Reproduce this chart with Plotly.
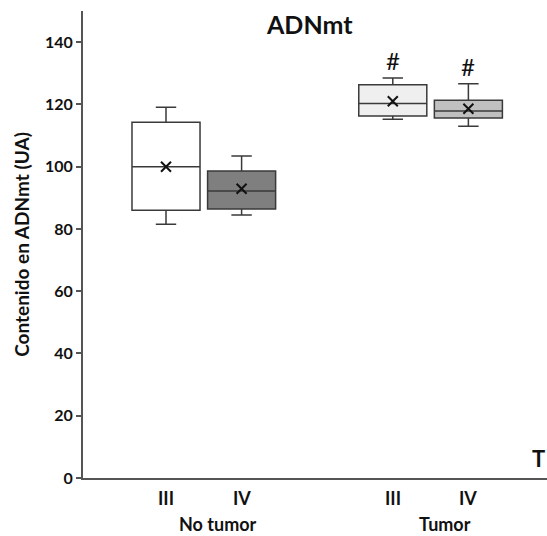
import plotly.graph_objects as go

# ---- data ----
groups = ["No tumor", "No tumor", "Tumor", "Tumor"]
stages = ["III", "IV", "III", "IV"]
positions = [0, 1, 3, 4]
lower_whisker = [81.5, 84.5, 115.2, 113.0]
q1_vals = [86.0, 86.4, 116.3, 115.6]
medians = [100.0, 92.2, 120.3, 117.9]
q3_vals = [114.3, 98.6, 126.3, 121.3]
upper_whisker = [119.1, 103.4, 128.5, 126.6]
means = [100.0, 92.9, 121.0, 118.6]
significance = ["", "", "#", "#"]
fills = ["#ffffff", "#7f7f7f", "#efefef", "#c0c0c0"]

title_text = "ADNmt"
y_title = "Contenido en ADNmt (UA)"
y_ticks = [0, 20, 40, 60, 80, 100, 120, 140]

FONT = "Lato"
line_col = "#3a3a3a"

W, H = 547, 536
ml, mr, mt, mb = 83, 0, 11, 58
pw, ph = W - ml - mr, H - mt - mb

fig = go.Figure()
for i in range(len(positions)):
    fig.add_trace(go.Box(
        x=[positions[i]],
        q1=[q1_vals[i]], median=[medians[i]], q3=[q3_vals[i]],
        lowerfence=[lower_whisker[i]], upperfence=[upper_whisker[i]],
        width=0.9, whiskerwidth=0.3,
        fillcolor=fills[i],
        line=dict(color=line_col, width=1.5),
        boxpoints=False, showlegend=False, hoverinfo="skip",
    ))

fig.add_trace(go.Scatter(
    x=positions, y=means, mode="markers",
    marker=dict(symbol="x-thin", size=10, line=dict(color="#111111", width=2)),
    showlegend=False, hoverinfo="skip",
))

annotations = []
# significance marks
for p, s, uw in zip(positions, significance, upper_whisker):
    if s:
        annotations.append(dict(x=p, y=uw, xref="x", yref="y", text=s, showarrow=False,
                                yanchor="bottom", yshift=1,
                                font=dict(family=FONT, size=24, color="#111111")))

# category labels
for p, st in zip(positions, stages):
    annotations.append(dict(x=p, y=0, xref="x", yref="paper", text=st, showarrow=False,
                            yanchor="middle", yshift=-20,
                            font=dict(family=FONT, size=18, color="#111111", weight="bold")))
group_names = []
for g in groups:
    if g not in group_names:
        group_names.append(g)
for g in group_names:
    xs = [p for p, gg in zip(positions, groups) if gg == g]
    annotations.append(dict(x=sum(xs) / len(xs), y=0, xref="x", yref="paper", text=g,
                            showarrow=False, yanchor="middle", yshift=-46, xshift=14,
                            font=dict(family=FONT, size=18, color="#111111", weight="bold")))

# title
annotations.append(dict(x=(309 - ml) / pw, y=1 - (24 - mt) / ph, xref="paper", yref="paper",
                        text=title_text, showarrow=False, xanchor="center", yanchor="middle",
                        font=dict(family=FONT, size=25, color="#111111", weight="bold")))
# truncated legend text at right edge
annotations.append(dict(x=1, y=1 - (458 - mt) / ph, xref="paper", yref="paper", text="T",
                        showarrow=False, xanchor="right", yanchor="middle", xshift=0,
                        font=dict(family=FONT, size=22, color="#111111", weight="bold")))

fig.update_layout(
    width=W, height=H,
    margin=dict(l=ml, r=mr, t=mt, b=mb),
    paper_bgcolor="white", plot_bgcolor="white",
    font=dict(family=FONT, color="#111111"),
    xaxis=dict(range=[-1.098, 5.04], showticklabels=False, ticks="",
               showline=True, linecolor="#555555", linewidth=2,
               showgrid=False, zeroline=False, fixedrange=True),
    yaxis=dict(range=[0, 150], tickvals=y_ticks, ticks="outside", ticklen=5,
               tickcolor="#555555", tickwidth=1.5,
               showline=True, linecolor="#555555", linewidth=2,
               showgrid=False, zeroline=False,
               tickfont=dict(family=FONT, size=16, color="#111111", weight="bold"),
               title=dict(text=y_title, standoff=10,
                          font=dict(family=FONT, size=19, color="#111111", weight="bold"))),
    annotations=annotations,
)

fig.write_html("out.html")
